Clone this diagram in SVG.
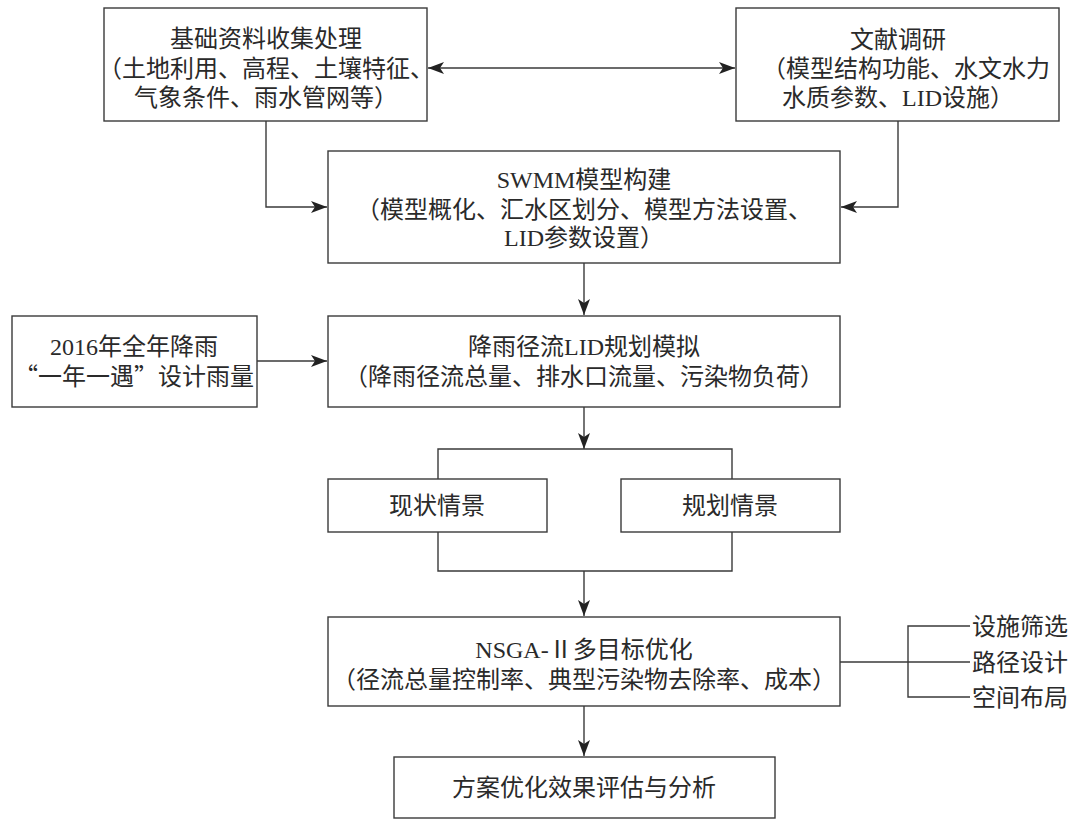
<svg xmlns="http://www.w3.org/2000/svg" width="1080" height="826" viewBox="0 0 1080 826">
<style>
  .box { fill: #fff; stroke: #3a3a3a; stroke-width: 1.4; }
  .ln { fill: none; stroke: #3a3a3a; stroke-width: 1.4; }
  .t { font-family: "Liberation Serif", "Noto Sans CJK SC", serif; font-size: 24px; fill: #2a2a2a; text-anchor: middle; }
  .tl { font-family: "Liberation Serif", "Noto Sans CJK SC", serif; font-size: 24px; fill: #2a2a2a; text-anchor: start; }
  .cjk { font-family: "Noto Sans CJK SC", sans-serif; }
</style>
<defs>
  <marker id="ah" viewBox="0 0 16 12" refX="16" refY="6" markerWidth="16" markerHeight="12" markerUnits="userSpaceOnUse" orient="auto-start-reverse">
    <path d="M0,0 L16,6 L0,12 L4,6 Z" fill="#222"/>
  </marker>
</defs>
<rect width="1080" height="826" fill="#fff"/>

<g id="connectors">
  <line class="ln" x1="428" y1="68" x2="735" y2="68" marker-start="url(#ah)" marker-end="url(#ah)"/>
  <polyline class="ln" points="266,121 266,207 327,207" marker-end="url(#ah)"/>
  <polyline class="ln" points="898,121 898,207 841,207" marker-end="url(#ah)"/>
  <line class="ln" x1="584" y1="263" x2="584" y2="315" marker-end="url(#ah)"/>
  <line class="ln" x1="257" y1="361" x2="327" y2="361" marker-end="url(#ah)"/>
  <line class="ln" x1="584" y1="407" x2="584" y2="449" marker-end="url(#ah)"/>
  <polyline class="ln" points="438,479 438,449 732,449 732,479"/>
  <polyline class="ln" points="438,532 438,571 732,571 732,532"/>
  <line class="ln" x1="584" y1="571" x2="584" y2="616" marker-end="url(#ah)"/>
  <line class="ln" x1="584" y1="706" x2="584" y2="756" marker-end="url(#ah)"/>
  <line class="ln" x1="840" y1="662" x2="970" y2="662"/>
  <polyline class="ln" points="970,626 908,626 908,697 970,697"/>
</g>

<g id="n1">
  <rect class="box" x="104" y="8" width="323" height="113"/>
  <text class="t" x="266" y="47">基础资料收集处理</text>
  <text class="t" x="266" y="77">（土地利用、高程、土壤特征、</text>
  <text class="t" x="266" y="106">气象条件、雨水管网等）</text>
</g>
<g id="n2">
  <rect class="box" x="736" y="8" width="323" height="113"/>
  <text class="t" x="898" y="48">文献调研</text>
  <text class="t" x="906" y="77">（模型结构功能、水文水力</text>
  <text class="t" x="898" y="106">水质参数、LID设施）</text>
</g>
<g id="n3">
  <rect class="box" x="328" y="151" width="512" height="112"/>
  <text class="t" x="584" y="188">SWMM模型构建</text>
  <text class="t" x="584" y="218">（模型概化、汇水区划分、模型方法设置、</text>
  <text class="t" x="584" y="246">LID参数设置）</text>
</g>
<g id="n4">
  <rect class="box" x="12" y="316" width="245" height="91"/>
  <text class="t" x="134" y="355">2016年全年降雨</text>
  <text class="t" x="134" y="385"><tspan class="cjk">“</tspan>一年一遇<tspan class="cjk">”</tspan>设计雨量</text>
</g>
<g id="n5">
  <rect class="box" x="328" y="316" width="512" height="91"/>
  <text class="t" x="584" y="355">降雨径流LID规划模拟</text>
  <text class="t" x="584" y="385">（降雨径流总量、排水口流量、污染物负荷）</text>
</g>
<g id="n6">
  <rect class="box" x="328" y="479" width="219" height="53"/>
  <text class="t" x="437" y="514">现状情景</text>
</g>
<g id="n7">
  <rect class="box" x="621" y="479" width="219" height="53"/>
  <text class="t" x="730" y="514">规划情景</text>
</g>
<g id="n8">
  <rect class="box" x="328" y="617" width="512" height="89"/>
  <text class="t" x="584" y="658">NSGA-<tspan class="cjk">Ⅱ</tspan>多目标优化</text>
  <text class="t" x="584" y="688">（径流总量控制率、典型污染物去除率、成本）</text>
</g>
<g id="n9">
  <rect class="box" x="394" y="757" width="381" height="61"/>
  <text class="t" x="584" y="796">方案优化效果评估与分析</text>
</g>
<g id="n10">
  <text class="tl" x="972" y="635">设施筛选</text>
  <text class="tl" x="972" y="671">路径设计</text>
  <text class="tl" x="972" y="706">空间布局</text>
</g>
</svg>
